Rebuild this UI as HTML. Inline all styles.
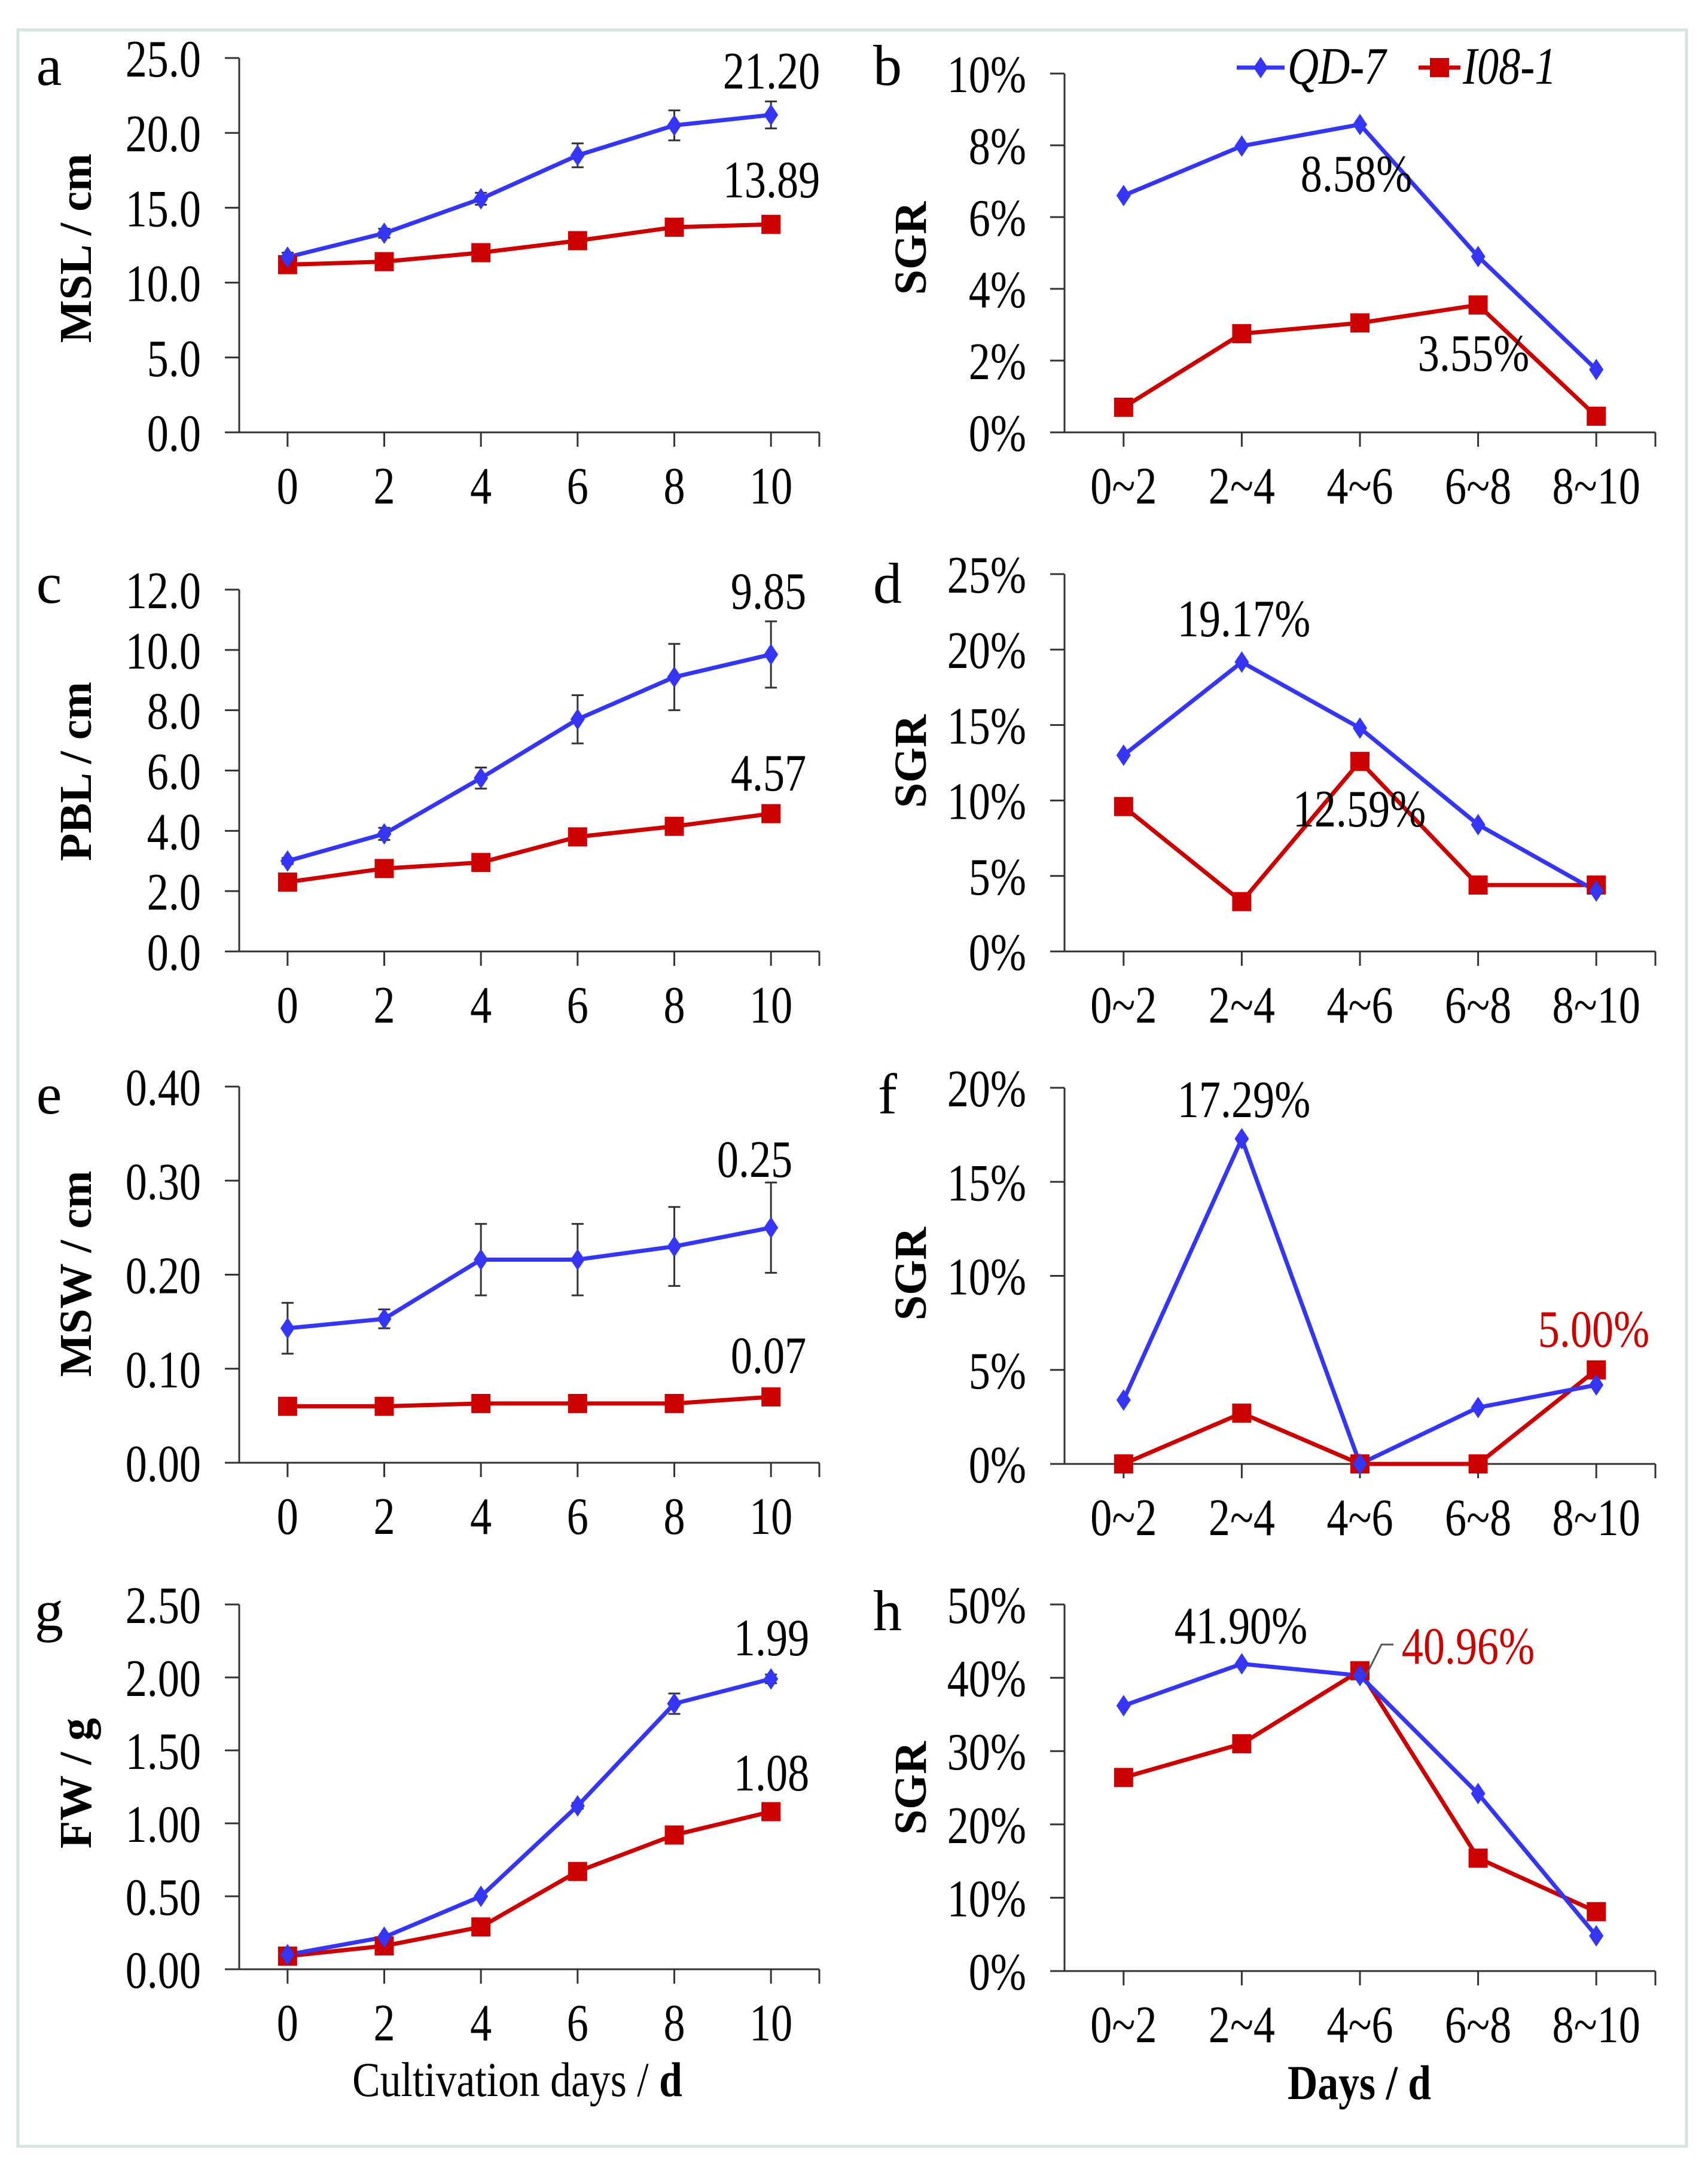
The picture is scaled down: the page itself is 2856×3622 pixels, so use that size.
<!DOCTYPE html>
<html><head><meta charset="utf-8"><style>
html,body{margin:0;padding:0;background:#fff}
svg{display:block}
text{font-family:"Liberation Serif",serif}
</style></head><body>
<svg id="fig" width="2856" height="3622" viewBox="0 0 2856 3622" xmlns="http://www.w3.org/2000/svg">
<rect x="30" y="50" width="2790" height="3539" fill="#fff" stroke="#d6e6de" stroke-width="5"/>
</svg>
<script>
const dayCats = ["0","2","4","6","8","10"];
const rangeCats = ["0~2","2~4","4~6","6~8","8~10"];
const aTicks = ["0.0","5.0","10.0","15.0","20.0","25.0"];
const aQD = [11.7,13.3,15.6,18.5,20.5,21.2];
const aQDerr = [0.3,0.3,0.4,0.8,1.0,0.9];
const aI08 = [11.2,11.4,12.0,12.8,13.7,13.89];
const bTicks = ["0%","2%","4%","6%","8%","10%"];
const bQD = [6.6,7.98,8.58,4.9,1.75];
const bI08 = [0.7,2.75,3.05,3.55,0.45];
const cTicks = ["0.0","2.0","4.0","6.0","8.0","10.0","12.0"];
const cQD = [3.0,3.9,5.75,7.7,9.1,9.85];
const cQDerr = [0.1,0.2,0.35,0.8,1.1,1.1];
const cI08 = [2.3,2.75,2.95,3.8,4.15,4.57];
const dTicks = ["0%","5%","10%","15%","20%","25%"];
const dQD = [13.0,19.17,14.8,8.4,4.0];
const dI08 = [9.6,3.3,12.59,4.4,4.4];
const eTicks = ["0.00","0.10","0.20","0.30","0.40"];
const eQD = [0.143,0.153,0.216,0.216,0.230,0.250];
const eQDerr = [0.027,0.01,0.038,0.038,0.042,0.048];
const eI08 = [0.060,0.060,0.063,0.063,0.063,0.070];
const fTicks = ["0%","5%","10%","15%","20%"];
const fQD = [3.4,17.29,0,3.0,4.2];
const fI08 = [0,2.7,0,0,5.0];
const gTicks = ["0.00","0.50","1.00","1.50","2.00","2.50"];
const gQD = [0.10,0.22,0.50,1.12,1.82,1.99];
const gQDerr = [0,0,0,0.02,0.07,0.03];
const gI08 = [0.09,0.16,0.29,0.67,0.92,1.08];
const hTicks = ["0%","10%","20%","30%","40%","50%"];
const hQD = [36.2,41.9,40.3,24.2,4.8];
const hI08 = [26.4,31.0,40.96,15.4,8.1];

const NS="http://www.w3.org/2000/svg";
const svg=document.getElementById('fig');
function mk(tag,attrs,parent){const e=document.createElementNS(NS,tag);for(const k in attrs)e.setAttribute(k,attrs[k]);(parent||svg).appendChild(e);return e;}
function txt(str,x,y,size,anchor,parent,extra){
  const t=mk('text',{x:0,y:0,'font-size':size,'text-anchor':anchor,fill:'#000',transform:`translate(${x},${y}) scale(0.82,1)`},parent);
  if(extra)for(const k in extra)t.setAttribute(k,extra[k]);
  t.textContent=str;return t;}
const BLUE="#3535f5", RED="#cc0000";

function panel(o){
  const g=mk('g',{});
  
  
  const n=o.cats.length, bw=(o.x1-o.x0)/n;
  const xs=i=>o.x0+bw*(i+0.5);
  const ys=v=>o.y1-(v-o.min)/(o.max-o.min)*(o.y1-o.y0);
  const ax=mk('path',{d:`M${o.x0},${o.y0}V${o.y1}H${o.x1}`,fill:'none',stroke:'#333','stroke-width':3},g);
  
  
  o.ticks.forEach((t,i)=>{
    const v=o.min+(o.max-o.min)*i/(o.ticks.length-1);
    const y=ys(v);
    mk('line',{x1:o.x0-24,x2:o.x0,y1:y,y2:y,stroke:'#333','stroke-width':3},g);
    const tl=txt(t,o.x0-64,y+31,88,'end',g);
    
    
  });
  o.cats.forEach((c,i)=>{
    mk('line',{x1:xs(i),x2:xs(i),y1:o.y1,y2:o.y1+24,stroke:'#333','stroke-width':3},g);
    const tl=txt(c,xs(i),o.y1+119,88,'middle',g);
    
    
  });
  mk('line',{x1:o.x1,x2:o.x1,y1:o.y1,y2:o.y1+24,stroke:'#333','stroke-width':3},g);
  if(o.err){o.qd.forEach((v,i)=>{const e=o.err[i];if(!e)return;
    const eb=mk('path',{d:`M${xs(i)},${ys(v-e)}V${ys(v+e)}M${xs(i)-10},${ys(v-e)}h20M${xs(i)-10},${ys(v+e)}h20`,stroke:'#333','stroke-width':3,fill:'none'},g);
    
    });}
  [[o.i08,RED,'i08-1'],[o.qd,BLUE,'qd-7']].forEach(([arr,col,nm])=>{
    const ln=mk('polyline',{points:arr.map((v,i)=>xs(i)+','+ys(v)).join(' '),fill:'none',stroke:col,'stroke-width':7,'stroke-linejoin':'round'},g);
    
    
  });
  o.i08.forEach((v,i)=>{const m=mk('rect',{x:xs(i)-16,y:ys(v)-16,width:32,height:32,fill:RED},g);
    
    });
  o.qd.forEach((v,i)=>{const x=xs(i),y=ys(v);const m=mk('path',{d:`M${x},${y-18}L${x+12},${y}L${x},${y+18}L${x-12},${y}Z`,fill:BLUE},g);
    
    });
  const L=txt(o.id,o.lx,o.ly,96,'middle',g);
  L.setAttribute('transform',`translate(${o.lx},${o.ly})`);
  
  
  const yt=mk('text',{x:0,y:0,'font-size':76,'font-weight':'bold','text-anchor':'middle',fill:'#000',transform:`translate(${o.tx},${o.ty}) rotate(-90)`},g);
  yt.textContent=o.title;
  
  
  o.ann.forEach(a=>{const t=txt(a[0],a[1],a[2],88,'middle',g,a[3]?{fill:a[3]}:null);
    
    });
}
const LX0=400,LX1=1370,RX0=1780,RX1=2768;
panel({id:'a',cats:dayCats,ticks:aTicks,min:0,max:25,qd:aQD,err:aQDerr,i08:aI08,x0:LX0,x1:LX1,y0:97,y1:723,lx:82,ly:142,tx:152,ty:415,title:'MSL / cm',
  ann:[['21.20',1290,148],['13.89',1290,330]]});
panel({id:'b',cats:rangeCats,ticks:bTicks,min:0,max:10,qd:bQD,i08:bI08,x0:RX0,x1:RX1,y0:123,y1:723,lx:1484,ly:142,tx:1548,ty:415,title:'SGR',
  ann:[['8.58%',2268,320],['3.55%',2464,620]]});
panel({id:'c',cats:dayCats,ticks:cTicks,min:0,max:12,qd:cQD,err:cQDerr,i08:cI08,x0:LX0,x1:LX1,y0:986,y1:1591,lx:82,ly:1008,tx:152,ty:1290,title:'PBL / cm',
  ann:[['9.85',1285,1018],['4.57',1285,1322]]});
panel({id:'d',cats:rangeCats,ticks:dTicks,min:0,max:25,qd:dQD,i08:dI08,x0:RX0,x1:RX1,y0:960,y1:1591,lx:1484,ly:1008,tx:1548,ty:1273,title:'SGR',
  ann:[['19.17%',2080,1064],['12.59%',2273,1382]]});
panel({id:'e',cats:dayCats,ticks:eTicks,min:0,max:0.4,qd:eQD,err:eQDerr,i08:eI08,x0:LX0,x1:LX1,y0:1817,y1:2446,lx:82,ly:1862,tx:152,ty:2130,title:'MSW / cm',
  ann:[['0.25',1262,1968],['0.07',1285,2296]]});
panel({id:'f',cats:rangeCats,ticks:fTicks,min:0,max:20,qd:fQD,i08:fI08,x0:RX0,x1:RX1,y0:1819,y1:2448,lx:1484,ly:1862,tx:1548,ty:2130,title:'SGR',
  ann:[['17.29%',2080,1868],['5.00%',2665,2252,RED]]});
panel({id:'g',cats:dayCats,ticks:gTicks,min:0,max:2.5,qd:gQD,err:gQDerr,i08:gI08,x0:LX0,x1:LX1,y0:2683,y1:3293,lx:82,ly:2726,tx:152,ty:2982,title:'FW / g',
  ann:[['1.99',1290,2768],['1.08',1290,2994]]});
panel({id:'h',cats:rangeCats,ticks:hTicks,min:0,max:50,qd:hQD,i08:hI08,x0:RX0,x1:RX1,y0:2683,y1:3296,lx:1484,ly:2726,tx:1548,ty:2990,title:'SGR',
  ann:[['41.90%',2075,2748],['40.96%',2455,2782,RED]]});
const ld=mk('path',{d:'M2285,2800L2310,2750H2330',fill:'none',stroke:'#555','stroke-width':3});


const lg=mk('g',{});


mk('line',{x1:2068,x2:2148,y1:113,y2:113,stroke:BLUE,'stroke-width':7},lg);
mk('path',{d:'M2108,95L2120,113L2108,131L2096,113Z',fill:BLUE},lg);
const l1=txt('QD-7',2153,140,88,'start',lg,{'font-style':'italic'});


mk('line',{x1:2372,x2:2442,y1:113,y2:113,stroke:RED,'stroke-width':7},lg);
mk('rect',{x:2391,y:97,width:32,height:32,fill:RED},lg);
const l2=txt('I08-1',2446,140,88,'start',lg,{'font-style':'italic'});


const xt1=mk('text',{x:0,y:0,'font-size':82,'text-anchor':'middle',fill:'#000',transform:'translate(865,3505) scale(0.85,1)'});
xt1.innerHTML='Cultivation days / <tspan font-weight="bold">d</tspan>';


const xt2=mk('text',{x:0,y:0,'font-size':82,'font-weight':'bold','text-anchor':'middle',fill:'#000',transform:'translate(2273,3510) scale(0.85,1)'});
xt2.textContent='Days / d';


</script>
</body></html>
